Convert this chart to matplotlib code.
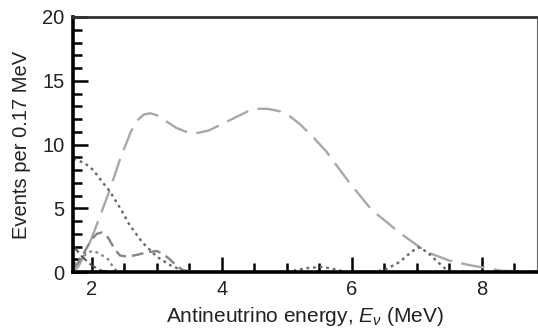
import matplotlib.pyplot as plt
from matplotlib.ticker import MultipleLocator

plt.rcParams['font.family'] = ['Liberation Sans', 'DejaVu Sans']
plt.rcParams['mathtext.fontset'] = 'custom'
plt.rcParams['mathtext.it'] = 'Liberation Sans:italic'
plt.rcParams['mathtext.rm'] = 'Liberation Sans'

# (energy in MeV, events per 0.17 MeV)
main_x = [1.72, 1.8, 1.9, 2.0, 2.12, 2.28, 2.43, 2.6, 2.7, 2.8, 2.9, 3.0, 3.15, 3.3,
          3.45, 3.62, 3.8, 4.0, 4.2, 4.4, 4.55, 4.7, 4.9, 5.05, 5.2, 5.4, 5.6, 5.95,
          6.3, 6.74, 7.15, 7.5, 7.8, 8.3, 8.85]
main_y = [0.0, 0.5, 1.5, 2.7, 4.3, 6.5, 8.8, 11.0, 11.9, 12.35, 12.45, 12.3, 11.8, 11.3,
          11.0, 10.9, 11.1, 11.6, 12.1, 12.6, 12.8, 12.8, 12.6, 12.2, 11.6, 10.6, 9.5, 7.1,
          4.9, 3.06, 1.57, 0.9, 0.55, 0.1, 0.0]

dot_x = [1.72, 1.77, 1.9, 2.02, 2.17, 2.28, 2.46, 2.58, 2.78, 3.0, 3.2, 3.4, 3.6]
dot_y = [8.9, 8.8, 8.5, 8.0, 7.0, 6.3, 4.8, 3.7, 2.3, 1.2, 0.55, 0.1, 0.0]

mid_x = [1.72, 1.8, 1.9, 2.0, 2.08, 2.15, 2.25, 2.35, 2.43, 2.55, 2.7, 2.85, 3.0,
         3.1, 3.2, 3.3, 3.4, 3.55]
mid_y = [0.3, 0.8, 1.7, 2.6, 3.0, 3.1, 2.7, 1.8, 1.3, 1.2, 1.35, 1.55, 1.65,
         1.4, 1.0, 0.5, 0.15, 0.0]

dark_x = [1.72, 1.85, 2.0, 2.15, 2.3]
dark_y = [2.0, 1.2, 0.5, 0.1, 0.0]

low_x = [1.72, 1.85, 2.0, 2.1, 2.25, 2.35, 2.45]
low_y = [0.6, 1.2, 1.65, 1.5, 1.0, 0.2, 0.0]

geo_x = [4.9, 5.1, 5.3, 5.55, 5.75, 5.9, 6.3, 6.5, 6.74, 6.9, 7.02, 7.15, 7.3, 7.46, 7.6]
geo_y = [0.0, 0.1, 0.3, 0.4, 0.2, 0.0, 0.0, 0.15, 0.8, 1.5, 1.95, 1.6, 0.9, 0.15, 0.0]

fig = plt.figure(figsize=(5.38, 3.29), dpi=100)
ax = fig.add_axes([73 / 538, 1 - 272 / 329, 464 / 538, 255 / 329])

ax.plot(main_x, main_y, color='#a8a8a8', lw=1.7, dashes=(10, 4))
ax.plot(dot_x, dot_y, color='#6a6a6a', lw=1.7, dashes=(1.2, 1.6))
ax.plot(mid_x, mid_y, color='#858585', lw=1.7, dashes=(5, 2.5))
ax.plot(dark_x, dark_y, color='#505050', lw=1.4, dashes=(4, 2))
ax.plot(low_x, low_y, color='#8a8a8a', lw=1.7, dashes=(1.2, 1.6))
ax.plot(geo_x, geo_y, color='#6a6a6a', lw=1.7, dashes=(1.2, 1.6))

ax.set_xlim(1.71, 8.85)
ax.set_ylim(0, 20)
ax.xaxis.set_major_locator(MultipleLocator(2))
ax.xaxis.set_minor_locator(MultipleLocator(0.5))
ax.yaxis.set_major_locator(MultipleLocator(5))
ax.yaxis.set_minor_locator(MultipleLocator(1))

ax.tick_params(which='both', direction='in', top=False, right=False,
               colors='black', labelcolor='#222222', labelsize=14.5)
ax.tick_params(which='major', length=11, width=1.8, pad=6)
ax.tick_params(which='minor', length=6.5, width=1.8)

ax.spines['left'].set_linewidth(2.6)
ax.spines['bottom'].set_linewidth(2.6)
ax.spines['top'].set_linewidth(2.0)
ax.spines['top'].set_color('#333333')
ax.spines['right'].set_linewidth(0.8)
ax.spines['right'].set_color('#666666')

ax.set_ylabel('Events per 0.17 MeV', fontsize=14.5, color='#222222', labelpad=8)
ax.set_xlabel(r'Antineutrino energy, $E_\nu$ (MeV)', fontsize=15, color='#222222', labelpad=4)

fig.savefig('out.png', dpi=100)
